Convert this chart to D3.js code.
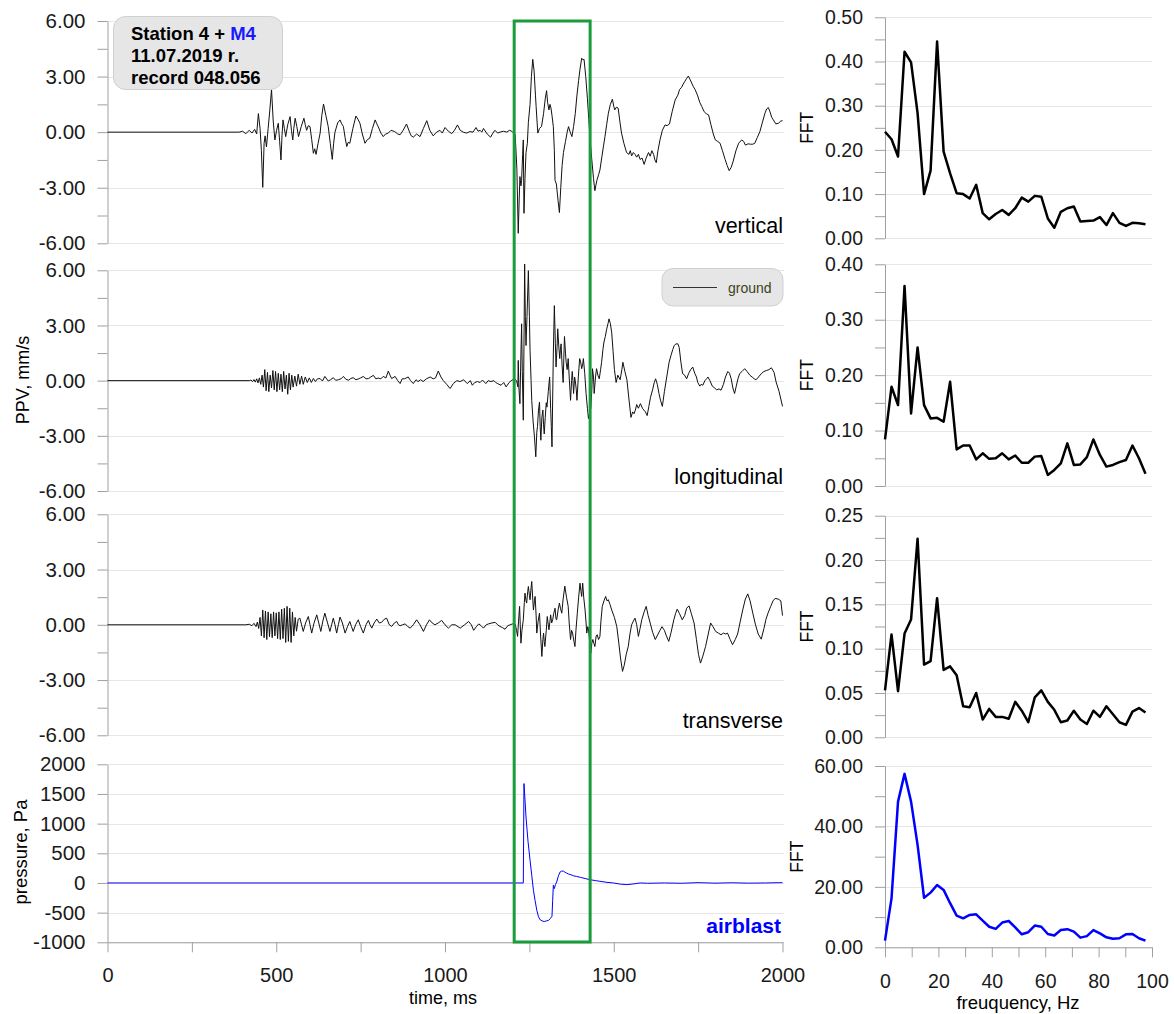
<!DOCTYPE html>
<html>
<head>
<meta charset="utf-8">
<script src="https://cdn.jsdelivr.net/npm/d3@7"></script>
<style>
  body { margin: 0; background: #fff; }
  svg, svg text { font-family: "Liberation Sans", Arial, sans-serif; }
  .axis path, .axis line { stroke: #a0a0a0; }
  .axis text { fill: #1a1a1a; }
  .grid line { stroke: #e6e6e6; }
</style>
</head>
<body>
<div id="svg-area"></div>
<script>
// ---- data ----
// time traces: [time ms, value]
var verticalTrace = [[0,0],[390,0],[400,0.05],[410,-0.08],[420,0.1],[428,-0.05],[436,0.15],[442,-0.1],[447,1.0],[452,0.2],[456,-1.0],[460,-2.98],[464,-0.6],[467,-0.2],[471,-0.8],[476,0.2],[481,1.2],[486,2.3],[491,0.6],[496,-0.42],[501,0.1],[506,0.48],[510,-0.5],[514,-1.5],[517,-0.2],[520,0.66],[524,0.2],[528,-0.24],[534,0.4],[541,0.84],[545,0.1],[549,-0.42],[552,0.2],[556,0.75],[561,0.3],[566,-0.24],[574,0.3],[582,0.75],[586,0.4],[590,0.1],[595,0.35],[600,0.3],[605,-0.4],[610,-1.14],[614,-0.9],[618,-1.2],[624,-0.6],[630,-0.05],[635,0.9],[640,1.52],[647,0.9],[654,0.3],[660,-0.6],[666,-1.47],[670,-0.6],[674,0.0],[682,0.5],[689,0.66],[694,0.45],[699,0.3],[704,-0.3],[709,-0.78],[713,-0.55],[718,-0.6],[727,0.2],[736,0.87],[742,0.7],[748,0.48],[755,-0.1],[763,-0.6],[770,-0.4],[777,-0.33],[785,0.2],[793,0.66],[798,0.45],[802,0.3],[810,-0.05],[817,-0.24],[824,-0.1],[832,-0.05],[840,0.1],[851,0.03],[860,-0.1],[867,-0.14],[876,0.1],[886,0.44],[895,0.0],[900,-0.2],[906,-0.27],[916,-0.1],[926,-0.24],[936,0.2],[946,0.62],[955,0.1],[965,-0.2],[975,0.0],[985,0.1],[992,-0.05],[1000,0.25],[1010,0.05],[1020,-0.08],[1028,0.1],[1037,0.39],[1045,0.1],[1054,0.0],[1064,-0.05],[1074,0.03],[1083,0.0],[1092,0.25],[1098,0.05],[1104,0.1],[1109,0.0],[1114,0.2],[1125,-0.1],[1135,-0.27],[1142,-0.05],[1148,0.1],[1156,-0.05],[1163,0.0],[1173,0.05],[1183,0.0],[1191,0.1],[1198,0.05],[1208,-0.14],[1213,-2.0],[1217,-5.46],[1220,-3.5],[1222,-2.4],[1225,-2.9],[1227,-2.6],[1230,-1.2],[1232,-0.42],[1234,-4.38],[1237,-2.5],[1240,-1.1],[1244,-0.6],[1247,0.53],[1252,1.5],[1256,3.0],[1260,3.93],[1264,3.3],[1268,2.0],[1270,1.38],[1273,0.5],[1275,-0.05],[1280,0.2],[1286,0.3],[1292,1.0],[1297,1.8],[1301,2.24],[1304,1.6],[1308,1.2],[1311,1.5],[1314,1.3],[1317,0.9],[1321,0.3],[1324,-1.0],[1326,-2.6],[1330,-2.8],[1335,-3.7],[1339,-4.34],[1343,-3.0],[1347,-1.8],[1351,-1.1],[1357,-0.5],[1362,0.0],[1366,0.3],[1371,0.0],[1376,-0.24],[1381,0.3],[1386,1.0],[1391,2.0],[1396,2.8],[1400,3.4],[1405,3.99],[1409,3.9],[1412,3.93],[1417,3.0],[1422,1.8],[1426,0.7],[1430,-0.42],[1435,-1.5],[1440,-2.5],[1444,-3.16],[1450,-2.6],[1455,-2.3],[1459,-2.05],[1465,-1.3],[1470,-0.7],[1474,-0.24],[1479,0.4],[1484,1.02],[1490,1.5],[1496,1.78],[1500,1.4],[1503,1.2],[1508,1.35],[1513,1.3],[1518,0.6],[1523,-0.05],[1530,-0.6],[1538,-1.1],[1545,-1.2],[1549,-1.0],[1553,-1.28],[1558,-1.1],[1563,-1.2],[1568,-1.35],[1573,-1.2],[1578,-1.47],[1584,-1.4],[1590,-1.74],[1596,-1.4],[1603,-1.1],[1608,-1.3],[1613,-1.0],[1618,-1.2],[1622,-1.5],[1626,-1.65],[1631,-1.0],[1637,-0.42],[1644,0.1],[1652,0.39],[1658,0.35],[1665,0.44],[1673,1.1],[1682,1.74],[1690,2.0],[1695,2.3],[1701,2.42],[1706,2.6],[1711,2.75],[1716,2.9],[1721,3.03],[1726,2.85],[1731,2.65],[1736,2.45],[1741,2.3],[1748,2.0],[1755,1.6],[1761,1.38],[1768,1.1],[1774,1.0],[1781,0.93],[1788,0.4],[1795,-0.1],[1801,-0.42],[1808,-0.5],[1815,-0.6],[1822,-1.0],[1830,-1.47],[1836,-1.8],[1842,-2.08],[1848,-1.9],[1854,-1.56],[1862,-1.0],[1870,-0.6],[1879,-0.42],[1885,-0.5],[1890,-0.7],[1898,-0.63],[1905,-0.65],[1912,-0.65],[1918,-0.6],[1925,-0.3],[1933,0.03],[1940,0.5],[1948,1.02],[1953,1.25],[1958,1.33],[1963,1.1],[1968,0.8],[1973,0.66],[1980,0.45],[1988,0.48],[1995,0.6],[2000,0.62]];

var longitudinalTrace = [[0,0],[420,0],[425,0.03],[430,-0.05],[434,0.06],[438,-0.08],[442,0.1],[446,-0.12],[450,0.15],[454,-0.2],[458,0.3],[462,-0.35],[466,0.6],[470,-0.55],[474,0.45],[478,-0.6],[482,0.3],[486,-0.4],[490,0.55],[494,-0.5],[498,0.5],[502,-0.6],[506,0.4],[510,-0.5],[514,0.35],[518,-0.6],[522,0.5],[526,-0.45],[530,0.3],[534,-0.74],[538,0.4],[542,-0.5],[546,0.3],[550,-0.35],[555,0.25],[560,-0.3],[565,0.35],[570,-0.2],[575,0.25],[580,-0.2],[586,0.2],[592,-0.1],[598,0.15],[604,-0.1],[610,0.12],[616,-0.05],[622,0.1],[630,0.11],[637,-0.02],[644,0.23],[654,-0.02],[661,0.05],[669,0.16],[676,0.02],[684,0.05],[692,0.1],[699,0.23],[706,0.08],[714,0.02],[721,0.12],[728,0.16],[736,0.05],[743,0.09],[750,0.15],[758,0.23],[766,0.1],[773,0.11],[780,0.2],[788,0.29],[795,0.1],[802,0.14],[810,0.1],[817,0.23],[825,0.15],[832,0.52],[837,0.3],[842,0.11],[852,0.23],[860,0.0],[867,-0.16],[873,0.1],[880,0.1],[891,0.2],[898,0.0],[906,-0.16],[914,0.05],[920,-0.05],[928,0.05],[935,-0.05],[945,0.1],[956,0.2],[965,0.1],[972,0.15],[980,0.52],[988,0.2],[995,0.0],[1005,-0.2],[1015,-0.43],[1025,-0.15],[1035,0.0],[1045,-0.05],[1055,0.05],[1066,-0.16],[1075,0.0],[1081,-0.25],[1088,-0.1],[1096,-0.05],[1104,-0.1],[1111,0.03],[1121,-0.16],[1128,0.0],[1136,-0.05],[1145,0.0],[1150,-0.1],[1156,-0.16],[1166,-0.25],[1174,-0.1],[1181,-0.34],[1190,-0.1],[1196,0.0],[1206,0.1],[1212,0.0],[1216,-0.34],[1217,1.1],[1219,-0.4],[1222,-1.25],[1225,1.5],[1227,3.09],[1229,0.5],[1232,-2.15],[1234,2.0],[1236,6.34],[1238,3.5],[1240,1.91],[1243,3.5],[1247,5.98],[1250,3.5],[1252,1.64],[1255,0.0],[1257,-1.07],[1261,-2.2],[1265,-3.05],[1269,-4.14],[1272,-2.8],[1274,-2.5],[1277,-1.6],[1280,-1.16],[1282,-2.5],[1284,-3.24],[1287,-2.0],[1290,-1.6],[1292,-2.4],[1294,-2.9],[1297,-2.0],[1300,-1.2],[1302,-1.44],[1306,-0.6],[1310,0.2],[1313,-1.5],[1315,-2.5],[1317,-3.6],[1319,-1.0],[1321,1.5],[1324,4.08],[1327,2.0],[1329,0.74],[1332,1.8],[1334,2.82],[1337,1.9],[1340,1.2],[1342,1.7],[1344,2.0],[1347,0.8],[1350,-0.1],[1352,1.2],[1354,2.4],[1357,1.5],[1359,1.0],[1362,0.6],[1365,1.2],[1368,0.2],[1372,-1.07],[1375,0.0],[1377,0.5],[1379,0.0],[1381,-0.7],[1384,0.2],[1386,0.0],[1389,-0.5],[1391,-1.07],[1395,0.2],[1399,1.2],[1402,1.0],[1405,0.65],[1408,0.9],[1410,1.2],[1414,0.4],[1418,-0.7],[1422,-1.5],[1425,-2.06],[1428,-1.8],[1432,-1.5],[1435,-0.5],[1437,0.65],[1440,0.2],[1442,-0.7],[1446,0.2],[1449,0.65],[1453,0.3],[1457,0.1],[1461,0.6],[1464,1.0],[1468,1.7],[1471,2.1],[1475,2.4],[1479,2.8],[1483,3.1],[1486,3.36],[1490,3.1],[1494,2.6],[1498,1.6],[1502,0.6],[1507,-0.1],[1512,0.3],[1519,0.05],[1524,0.6],[1527,1.0],[1533,0.5],[1539,0.05],[1545,-1.0],[1551,-2.0],[1556,-1.7],[1560,-1.8],[1564,-1.6],[1568,-1.3],[1573,-1.5],[1579,-1.25],[1585,-1.5],[1589,-1.6],[1594,-1.7],[1599,-1.9],[1604,-1.4],[1609,-0.9],[1615,-0.5],[1620,-0.1],[1624,0.1],[1629,-0.2],[1634,-0.7],[1639,-1.1],[1644,-1.4],[1650,-0.6],[1657,0.2],[1664,1.0],[1670,1.4],[1675,1.7],[1679,1.9],[1684,2.0],[1690,2.0],[1694,1.8],[1699,1.0],[1704,0.38],[1710,0.3],[1716,0.1],[1722,0.4],[1728,0.6],[1734,0.74],[1740,0.4],[1745,0.2],[1749,-0.1],[1755,-0.3],[1759,-0.2],[1764,-0.25],[1770,0.0],[1775,0.1],[1779,0.2],[1785,0.0],[1792,-0.3],[1799,-0.4],[1805,-0.5],[1812,-0.45],[1818,-0.52],[1825,-0.2],[1831,0.2],[1838,0.5],[1843,0.4],[1848,0.1],[1853,-0.4],[1858,-0.7],[1863,-0.3],[1868,0.1],[1873,0.38],[1880,0.5],[1888,0.65],[1895,0.5],[1903,0.3],[1910,0.2],[1916,0.1],[1922,0.05],[1929,0.2],[1937,0.38],[1945,0.5],[1952,0.55],[1960,0.6],[1967,0.7],[1975,0.45],[1981,-0.07],[1990,-0.6],[2000,-1.4]];

var transverseTrace = [[0,0],[410,0],[420,0.03],[428,-0.05],[434,0.08],[440,-0.1],[444,0.15],[448,-0.2],[452,0.4],[456,-0.6],[460,0.8],[464,-0.7],[468,0.75],[472,-0.8],[476,0.7],[480,-0.65],[484,0.6],[488,-0.7],[492,0.7],[496,-0.6],[500,0.65],[504,-0.75],[508,0.7],[512,-0.8],[516,0.85],[520,-0.75],[524,0.9],[528,-0.96],[532,1.0],[536,-0.9],[540,0.9],[544,-0.96],[548,0.7],[552,-0.6],[556,0.4],[560,-0.35],[565,0.3],[570,0.36],[575,0.0],[580,-0.36],[587,0.1],[595,0.45],[600,0.0],[605,-0.45],[612,0.1],[620,0.54],[626,0.1],[632,-0.36],[638,0.2],[644,0.63],[652,0.1],[659,-0.36],[664,0.0],[669,0.36],[674,0.0],[679,-0.45],[684,0.0],[689,0.42],[696,0.1],[704,-0.45],[711,-0.1],[718,0.18],[723,-0.1],[728,-0.36],[735,0.0],[743,0.27],[750,-0.1],[758,-0.45],[766,0.0],[773,0.24],[778,0.0],[783,-0.18],[790,0.1],[798,0.31],[805,0.1],[812,0.13],[820,0.3],[827,0.36],[835,0.0],[842,-0.09],[850,0.1],[857,0.18],[862,0.0],[867,-0.05],[874,0.0],[882,0.05],[890,-0.1],[897,-0.18],[906,0.0],[916,0.27],[926,0.0],[936,-0.36],[945,0.0],[954,0.27],[962,0.1],[970,0.0],[980,0.1],[990,0.24],[1000,0.0],[1010,-0.18],[1020,0.0],[1030,0.0],[1045,-0.18],[1058,0.0],[1070,0.18],[1078,0.0],[1085,-0.3],[1093,-0.1],[1100,0.05],[1107,-0.05],[1114,-0.18],[1122,0.0],[1129,0.05],[1139,0.1],[1149,0.13],[1156,0.0],[1163,-0.09],[1170,-0.15],[1178,-0.24],[1186,-0.05],[1193,0.0],[1200,0.05],[1208,0.05],[1212,-0.3],[1215,-0.63],[1218,0.2],[1221,1.0],[1223,0.0],[1225,-1.0],[1228,-0.3],[1232,0.27],[1235,1.2],[1237,1.72],[1240,1.3],[1242,1.18],[1245,1.8],[1247,2.08],[1250,1.6],[1252,1.36],[1255,2.0],[1257,2.35],[1260,1.4],[1262,0.8],[1265,1.3],[1267,1.54],[1270,0.5],[1272,-0.45],[1276,0.2],[1280,0.63],[1283,-0.5],[1287,-1.72],[1290,-0.8],[1292,-0.45],[1294,-0.9],[1296,-1.18],[1300,-0.3],[1303,0.45],[1306,0.0],[1308,-0.27],[1311,0.2],[1313,0.54],[1316,0.1],[1319,0.27],[1322,0.6],[1326,0.9],[1329,0.3],[1331,0.27],[1335,0.8],[1339,1.18],[1342,0.9],[1346,0.63],[1350,1.4],[1355,2.1],[1360,1.5],[1365,1.0],[1368,0.1],[1372,-0.8],[1375,-0.3],[1378,-0.45],[1382,-0.9],[1385,-1.18],[1388,-0.3],[1392,0.63],[1396,1.5],[1400,2.26],[1403,1.8],[1405,1.54],[1408,2.26],[1411,1.5],[1415,0.8],[1418,0.1],[1420,-0.45],[1423,-0.1],[1425,-0.2],[1429,-1.0],[1432,-1.54],[1435,-1.0],[1438,-0.8],[1441,-1.0],[1444,-1.18],[1448,-0.6],[1451,-0.54],[1455,-0.8],[1459,-0.63],[1462,0.2],[1466,1.0],[1471,1.3],[1476,1.54],[1480,1.3],[1484,1.36],[1489,1.1],[1494,0.8],[1502,0.4],[1509,-0.1],[1515,-1.0],[1520,-1.8],[1526,-2.53],[1531,-2.2],[1537,-1.6],[1543,-1.18],[1548,-0.5],[1553,0.0],[1558,0.2],[1563,0.36],[1568,0.0],[1573,-0.63],[1578,-0.2],[1583,0.27],[1590,0.7],[1596,1.0],[1602,0.5],[1608,0.1],[1615,-0.4],[1623,-0.8],[1630,-0.55],[1637,-0.3],[1643,-0.1],[1650,-0.3],[1656,-0.6],[1663,-0.9],[1670,-0.4],[1678,0.27],[1683,0.6],[1688,0.85],[1695,0.6],[1703,0.27],[1710,0.5],[1716,0.9],[1723,1.03],[1730,0.6],[1738,0.1],[1745,-0.8],[1751,-1.6],[1757,-2.08],[1764,-1.7],[1772,-1.18],[1780,-0.5],[1787,0.1],[1794,-0.1],[1802,-0.36],[1810,-0.45],[1818,-0.54],[1825,-0.45],[1832,-0.5],[1837,-0.45],[1845,-0.8],[1852,-1.08],[1860,-0.8],[1867,-0.5],[1875,0.2],[1882,0.8],[1890,1.4],[1897,1.68],[1904,1.3],[1912,0.63],[1920,0.0],[1928,-0.5],[1937,-0.78],[1945,-0.2],[1951,0.3],[1957,0.63],[1965,1.0],[1972,1.3],[1978,1.43],[1987,1.4],[1995,1.3],[2000,0.5]];

var airblastTrace = [[0,0],[1000,0],[1232,0],[1234,1675],[1237,1400],[1240,1112],[1246,700],[1252,383],[1257,130],[1262,-123],[1267,-300],[1272,-460],[1277,-570],[1282,-620],[1288,-640],[1294,-650],[1300,-640],[1307,-630],[1312,-600],[1317,-560],[1319,-300],[1321,-39],[1324,-95],[1327,-30],[1331,17],[1336,120],[1341,185],[1346,200],[1351,200],[1356,180],[1361,165],[1366,150],[1373,140],[1381,120],[1390,110],[1401,95],[1415,75],[1430,55],[1445,40],[1459,28],[1480,10],[1499,0],[1520,-20],[1539,-28],[1560,-15],[1578,0],[1600,-5],[1650,0],[1700,-5],[1750,5],[1800,-3],[1850,3],[1900,-3],[1950,0],[2000,5]];

// spectra
var fftFreq = [0,2.44,4.88,7.32,9.76,12.2,14.63,17.07,19.51,21.95,24.39,26.83,29.27,31.71,34.15,36.59,39.02,41.46,43.9,46.34,48.78,51.22,53.66,56.1,58.54,60.98,63.41,65.85,68.29,70.73,73.17,75.61,78.05,80.49,82.93,85.37,87.8,90.24,92.68,95.12,97.56];
var fftVertical = [0.241,0.224,0.185,0.422,0.398,0.283,0.100,0.153,0.445,0.196,0.147,0.102,0.100,0.090,0.121,0.057,0.043,0.055,0.064,0.053,0.068,0.092,0.083,0.096,0.094,0.045,0.024,0.060,0.068,0.072,0.038,0.039,0.040,0.048,0.030,0.057,0.035,0.028,0.035,0.034,0.032];
var fftLongitudinal = [0.084,0.179,0.146,0.361,0.131,0.250,0.146,0.122,0.123,0.116,0.188,0.066,0.073,0.073,0.048,0.059,0.049,0.050,0.059,0.048,0.055,0.042,0.042,0.053,0.054,0.020,0.029,0.041,0.077,0.038,0.039,0.052,0.084,0.056,0.035,0.038,0.043,0.047,0.073,0.050,0.022];
var fftTransverse = [0.053,0.116,0.052,0.117,0.133,0.224,0.082,0.086,0.157,0.076,0.080,0.070,0.035,0.034,0.050,0.020,0.032,0.023,0.023,0.021,0.040,0.030,0.017,0.045,0.053,0.040,0.031,0.017,0.019,0.030,0.020,0.015,0.030,0.023,0.035,0.026,0.017,0.014,0.029,0.033,0.028];
var fftAirblast = [2.2,16.2,48.2,57.4,48.2,33.9,16.4,18.1,20.6,19.0,14.6,10.5,9.6,10.7,10.9,8.8,6.8,6.1,8.2,8.7,6.6,4.3,5.0,7.2,6.8,4.4,3.9,5.7,6.0,5.2,3.2,3.7,5.7,4.6,3.3,2.8,3.0,4.3,4.4,3.0,2.2];

var timeTicks = [0,250,500,750,1000,1250,1500,1750,2000];
var freqTicks = [0,10,20,30,40,50,60,70,80,90,100];
var analysisWindow = [1205, 1430];   // green frame, ms

var svgWidth = 1175;
var svgHeight = 1014;

var svg = d3.select("#svg-area")
  .append("svg")
  .attr("width", svgWidth)
  .attr("height", svgHeight);

var xTime = d3.scaleLinear().domain([0, 2000]).range([107.5, 782.5]);
var xFreq = d3.scaleLinear().domain([0, 100]).range([885, 1152]);

var fmt2 = function(d) { return d.toFixed(2); };

// one panel with grid, left axis and a line
function drawPanel(opt) {
  var y = d3.scaleLinear().domain(opt.domain).range(opt.range);
  var g = svg.append("g");

  g.append("g").attr("class", "grid")
    .selectAll("line")
    .data(opt.grid)
    .enter()
    .append("line")
    .attr("x1", opt.x.range()[0])
    .attr("x2", opt.gridEnd)
    .attr("y1", d => Math.round(y(d)) + 0.5)
    .attr("y2", d => Math.round(y(d)) + 0.5);

  var axis = d3.axisLeft(y)
    .tickValues(opt.ticks)
    .tickFormat(opt.format)
    .tickSize(10)
    .tickSizeOuter(0)
    .tickPadding(12);

  g.append("g")
    .attr("class", "axis")
    .attr("transform", `translate(${opt.x.range()[0]},0)`)
    .call(axis)
    .call(s => s.selectAll("text").style("font-size", opt.fontSize));

  var line = d3.line()
    .x(opt.xAcc)
    .y(d => y(opt.yAcc(d)));

  g.append("path")
    .datum(opt.data)
    .attr("fill", "none")
    .attr("stroke", opt.color)
    .attr("stroke-width", opt.width)
    .attr("stroke-linejoin", "round")
    .attr("d", line);

  return y;
}

// Step 1: time traces
var waveTicks = d3.range(-6, 6.01, 1.5);
var waveFormat = d => (Math.round(d * 10) % 30 === 0 ? d.toFixed(2) : "");
var wavePanels = [
  { data: verticalTrace, range: [243.3, 21], label: "vertical", labelY: 233 },
  { data: longitudinalTrace, range: [491, 270.3], label: "longitudinal", labelY: 484 },
  { data: transverseTrace, range: [735.3, 514.3], label: "transverse", labelY: 727.5 }
];

wavePanels.forEach(function(p) {
  drawPanel({
    data: p.data, domain: [-6, 6], range: p.range,
    x: xTime, gridEnd: 784,
    grid: [-6, -3, 0, 3, 6], ticks: waveTicks, format: waveFormat,
    fontSize: "20.5px",
    xAcc: d => xTime(d[0]), yAcc: d => d[1],
    color: "#111", width: 1
  });
  svg.append("text")
    .attr("x", 783)
    .attr("y", p.labelY)
    .attr("text-anchor", "end")
    .style("font-size", "21.5px")
    .text(p.label);
});

drawPanel({
  data: airblastTrace, domain: [-1000, 2000], range: [942.3, 764.3],
  x: xTime, gridEnd: 784,
  grid: [-1000, -500, 0, 500, 1000, 1500, 2000],
  ticks: [-1000, -500, 0, 500, 1000, 1500, 2000], format: d => String(d),
  fontSize: "20.5px",
  xAcc: d => xTime(d[0]), yAcc: d => d[1],
  color: "#0000ff", width: 1
});

svg.append("text")
  .attr("x", 781)
  .attr("y", 932.5)
  .attr("text-anchor", "end")
  .style("font-size", "21px")
  .style("font-weight", "bold")
  .attr("fill", "#0000ff")
  .text("airblast");

// time axis
svg.append("g")
  .attr("class", "axis")
  .attr("transform", "translate(0,942.3)")
  .call(d3.axisBottom(xTime)
    .tickValues(timeTicks)
    .tickFormat(d => (d % 500 === 0 ? String(d) : ""))
    .tickSize(10).tickSizeOuter(0).tickPadding(16))
  .call(s => s.selectAll("text").style("font-size", "20px"));

svg.append("text")
  .attr("x", 443)
  .attr("y", 1004)
  .attr("text-anchor", "middle")
  .style("font-size", "18px")
  .text("time, ms");

// Step 2: spectra
var fftPanels = [
  { data: fftVertical, domain: [0, 0.5], range: [238.3, 17.3], step: 0.05, major: 0.1, labelX: 813, color: "#000" },
  { data: fftLongitudinal, domain: [0, 0.4], range: [486, 264.3], step: 0.05, major: 0.1, labelX: 813, color: "#000" },
  { data: fftTransverse, domain: [0, 0.25], range: [737.3, 515.7], step: 0.025, major: 0.05, labelX: 813, color: "#000" },
  { data: fftAirblast, domain: [0, 60], range: [947.3, 766], step: 10, major: 20, labelX: 803, color: "#0000ff" }
];

fftPanels.forEach(function(p) {
  var ticks = d3.range(0, p.domain[1] + p.step / 2, p.step);
  var grid = d3.range(0, p.domain[1] + p.major / 2, p.major);
  var isMajor = d => Math.abs(d / p.major - Math.round(d / p.major)) < 1e-6;
  drawPanel({
    data: p.data, domain: p.domain, range: p.range,
    x: xFreq, gridEnd: 1152,
    grid: grid, ticks: ticks, format: d => (isMajor(d) ? fmt2(d) : ""),
    fontSize: "19.5px",
    xAcc: (d, i) => xFreq(fftFreq[i]), yAcc: d => d,
    color: p.color, width: 2.5
  });
  var cy = (p.range[0] + p.range[1]) / 2;
  svg.append("text")
    .attr("transform", `translate(${p.labelX},${cy}) rotate(-90)`)
    .attr("text-anchor", "middle")
    .style("font-size", "17.5px")
    .text("FFT");
});

svg.append("g")
  .attr("class", "axis")
  .attr("transform", "translate(0,947.3)")
  .call(d3.axisBottom(xFreq)
    .tickValues(freqTicks)
    .tickFormat(d => (d % 20 === 0 ? String(d) : ""))
    .tickSize(10).tickSizeOuter(0).tickPadding(17))
  .call(s => s.selectAll("text").style("font-size", "19.5px"));

svg.append("text")
  .attr("x", 1018)
  .attr("y", 1009)
  .attr("text-anchor", "middle")
  .style("font-size", "18.5px")
  .text("freuquency, Hz");

// Step 3: axis titles
svg.append("text")
  .attr("transform", "translate(29,380) rotate(-90)")
  .attr("text-anchor", "middle")
  .style("font-size", "18px")
  .text("PPV, mm/s");

svg.append("text")
  .attr("transform", "translate(27,852) rotate(-90)")
  .attr("text-anchor", "middle")
  .style("font-size", "18.5px")
  .text("pressure, Pa");

// Step 4: analysis window frame
svg.append("rect")
  .attr("x", xTime(analysisWindow[0]))
  .attr("y", 21)
  .attr("width", xTime(analysisWindow[1]) - xTime(analysisWindow[0]))
  .attr("height", 942 - 21)
  .attr("fill", "none")
  .attr("stroke", "#1a9c3c")
  .attr("stroke-width", 3);

// Step 5: info box and legend
svg.append("rect")
  .attr("x", 113.5).attr("y", 16.5)
  .attr("width", 169).attr("height", 73)
  .attr("rx", 12)
  .attr("fill", "#e6e6e6")
  .attr("stroke", "#d0d0d0");

var info = svg.append("text")
  .attr("x", 131)
  .style("font-size", "18.5px")
  .style("font-weight", "bold");
var l1 = info.append("tspan").attr("x", 131).attr("y", 39.5);
l1.append("tspan").text("Station 4 + ");
l1.append("tspan").attr("fill", "#1a1aff").text("M4");
info.append("tspan").attr("x", 131).attr("y", 61.5).text("11.07.2019 r.");
info.append("tspan").attr("x", 131).attr("y", 83.5).text("record 048.056");

svg.append("rect")
  .attr("x", 662).attr("y", 268.5)
  .attr("width", 121).attr("height", 37.5)
  .attr("rx", 11)
  .attr("fill", "#e6e6e6")
  .attr("stroke", "#d0d0d0");

svg.append("line")
  .attr("x1", 673).attr("x2", 717)
  .attr("y1", 287.5).attr("y2", 287.5)
  .attr("stroke", "#333")
  .attr("stroke-width", 1);

svg.append("text")
  .attr("x", 728)
  .attr("y", 292.5)
  .style("font-size", "14px")
  .attr("fill", "#3f3f1a")
  .text("ground");
</script>
</body>
</html>
